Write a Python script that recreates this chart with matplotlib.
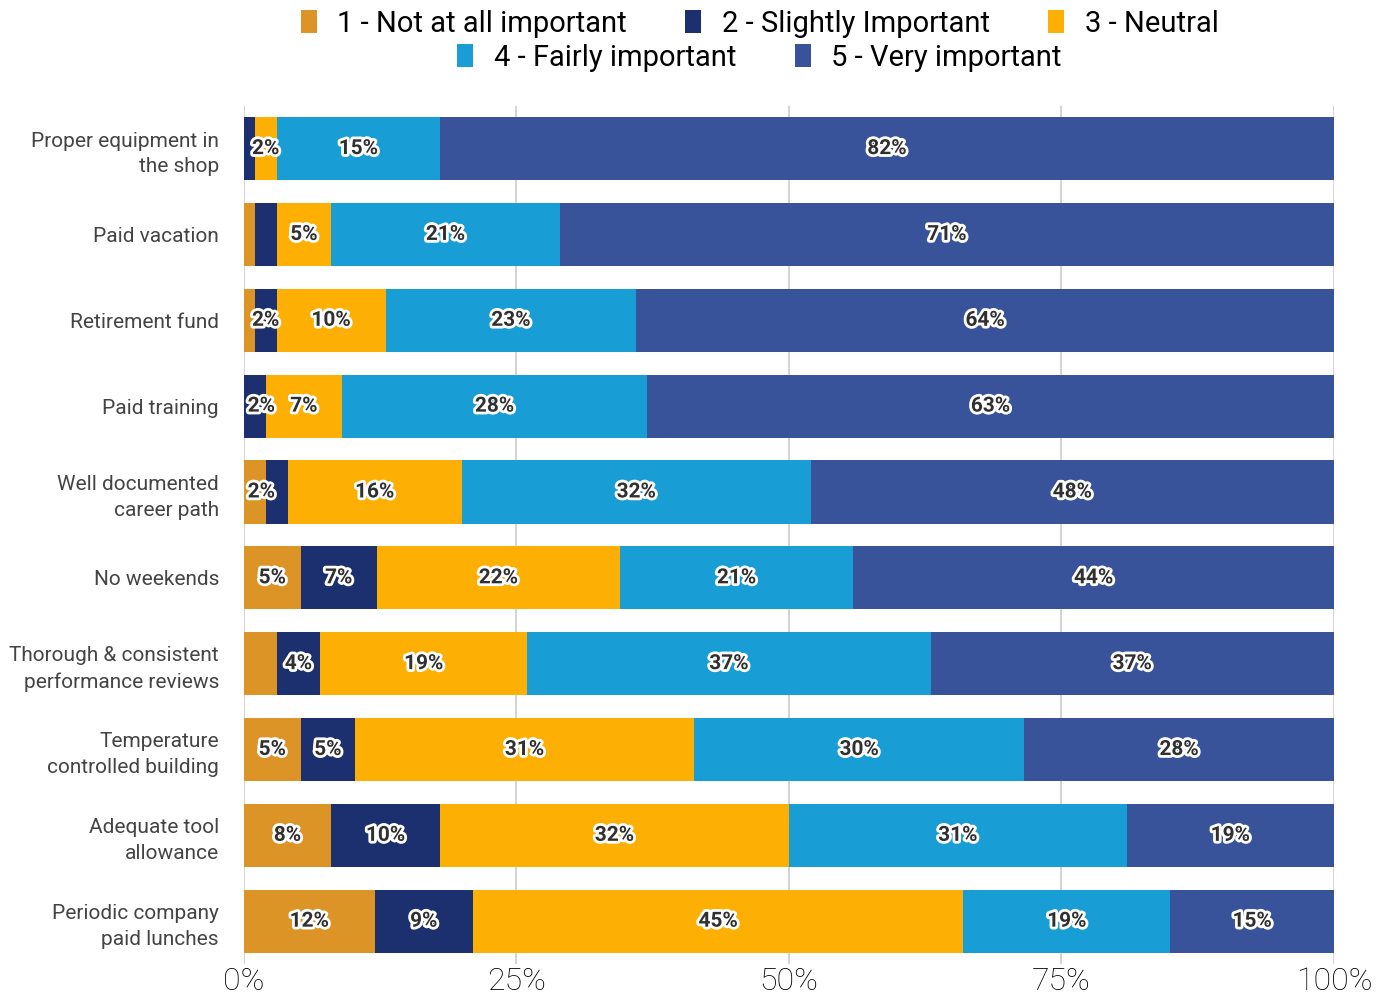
import numpy as np
import matplotlib.pyplot as plt
import matplotlib.patheffects as pe
from matplotlib.patches import Patch

# Survey benefits, top to bottom
benefits = ['Proper equipment in\nthe shop', 'Paid vacation', 'Retirement fund',
            'Paid training', 'Well documented\ncareer path', 'No weekends',
            'Thorough & consistent\nperformance reviews',
            'Temperature\ncontrolled building', 'Adequate tool\nallowance',
            'Periodic company\npaid lunches']

series = ['1 - Not at all important', '2 - Slightly Important', '3 - Neutral',
          '4 - Fairly important', '5 - Very important']

# share of answers per benefit (%)
not_at_all = [0.0, 1.0, 1.0, 0.0, 2.0, 5.2, 3.0, 5.2, 8.0, 12.0]
slightly = [1.0, 2.0, 2.0, 2.0, 2.0, 7.0, 4.0, 5.0, 10.0, 9.0]
neutral = [2.0, 5.0, 10.0, 7.0, 16.0, 22.3, 19.0, 31.1, 32.0, 45.0]
fairly = [15.0, 21.0, 23.0, 28.0, 32.0, 21.4, 37.0, 30.3, 31.0, 19.0]
very = [82.0, 71.0, 64.0, 63.0, 48.0, 44.1, 37.0, 28.4, 19.0, 15.0]

# small segments left without a value label (row, series)
no_label = {(1, 1), (4, 1), (6, 0)}

colors = ['#DC9426', '#1C2F6E', '#FDB003', '#189ED4', '#38539A']

data = np.array([not_at_all, slightly, neutral, fairly, very])
y = np.arange(len(benefits))

fig, ax = plt.subplots(figsize=(13.91, 9.97), dpi=100)
fig.patch.set_facecolor('white')
plt.subplots_adjust(left=0.1754, right=0.959, top=0.894, bottom=0.033)

left = np.zeros(len(benefits))
for s in range(len(series)):
    vals = data[s]
    ax.barh(y, vals, left=left, height=0.735, color=colors[s],
            label=series[s], zorder=3)
    for i, v in enumerate(vals):
        if v < 1.95 or (i, s) in no_label:
            continue
        # keep the tiny labels off the left edge
        xc = max(left[i] + v / 2, 1.6)
        ax.text(xc, y[i], '%d%%' % round(v), ha='center',
                va='center', fontsize=15, fontweight='bold', color='#303030',
                fontfamily='Roboto', zorder=5,
                path_effects=[pe.withStroke(linewidth=4, foreground='white')])
    left = left + vals

ax.set_xlim(0, 100)
ax.set_ylim(len(benefits) - 0.5, -0.5)
ax.set_xticks([0, 25, 50, 75, 100])
ax.set_xticklabels(['0%', '25%', '50%', '75%', '100%'], fontsize=23,
                   fontfamily='Roboto', fontweight='light', color='#000000')
ax.set_yticks(y)
ax.set_yticklabels(benefits, fontsize=15, fontfamily='Roboto',
                   color='#444444', linespacing=1.45)
ax.tick_params(axis='both', length=0)
ax.tick_params(axis='y', pad=18)
ax.tick_params(axis='x', pad=2)
ax.xaxis.grid(True, color='#cccccc', linewidth=1.2, zorder=0)
ax.set_axisbelow(True)
for sp in ax.spines.values():
    sp.set_visible(False)

# legend split into two centred rows
handles = [Patch(facecolor=c) for c in colors]
legend_font = {'family': 'Roboto', 'size': 21}
leg1 = fig.legend(handles[:3], series[:3], loc='center', ncol=3,
                  bbox_to_anchor=(0.546, 0.976), frameon=False, prop=legend_font,
                  handlelength=0.55, handleheight=0.85, handletextpad=0.7,
                  columnspacing=2.0)
leg2 = fig.legend(handles[3:], series[3:], loc='center', ncol=2,
                  bbox_to_anchor=(0.546, 0.942), frameon=False, prop=legend_font,
                  handlelength=0.55, handleheight=0.85, handletextpad=0.7,
                  columnspacing=2.0)

fig.savefig('out.png', dpi=100)
